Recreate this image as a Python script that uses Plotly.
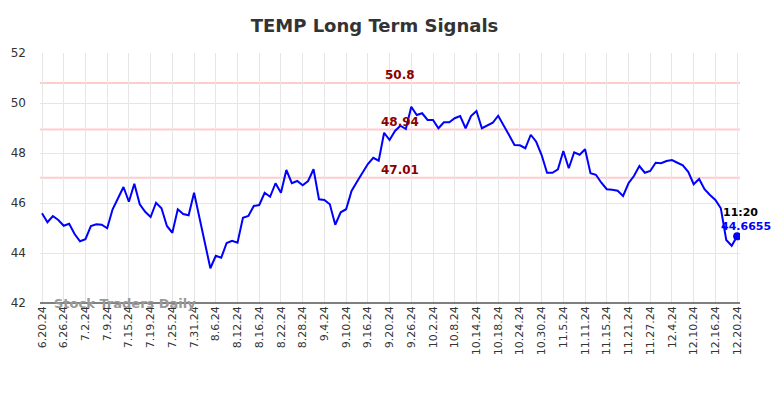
import plotly.graph_objects as go

values = [
    45.59, 45.23, 45.48, 45.32, 45.09, 45.17, 44.76, 44.47, 44.55, 45.08,
    45.15, 45.13, 44.99, 45.75, 46.19, 46.64, 46.05, 46.77, 45.95, 45.65,
    45.44, 46.01, 45.79, 45.08, 44.81, 45.75, 45.56, 45.51, 46.41, 45.40,
    44.40, 43.39, 43.89, 43.81, 44.40, 44.49, 44.41, 45.41, 45.48, 45.88,
    45.92, 46.41, 46.25, 46.79, 46.41, 47.32, 46.79, 46.88, 46.71, 46.88,
    47.35, 46.15, 46.12, 45.95, 45.13, 45.63, 45.75, 46.48, 46.85, 47.21,
    47.56, 47.81, 47.69, 48.81, 48.52, 48.88, 49.09, 48.96, 49.85, 49.52,
    49.59, 49.32, 49.32, 48.99, 49.23, 49.23, 49.39, 49.48, 48.99, 49.48,
    49.68, 48.99, 49.09, 49.21, 49.49, 49.12, 48.72, 48.32, 48.31, 48.19,
    48.73, 48.45, 47.92, 47.21, 47.21, 47.35, 48.08, 47.39, 48.03, 47.93,
    48.15, 47.19, 47.13, 46.81, 46.55, 46.53, 46.49, 46.28, 46.79, 47.08,
    47.48, 47.21, 47.28, 47.61, 47.59, 47.68, 47.72, 47.61, 47.51, 47.25,
    46.75, 46.96, 46.55, 46.32, 46.12, 45.79, 44.52, 44.29, 44.6655,
]

tick_labels = [
    "6.20.24", "6.26.24", "7.2.24", "7.9.24", "7.15.24", "7.19.24", "7.25.24",
    "7.31.24", "8.6.24", "8.12.24", "8.16.24", "8.22.24", "8.28.24", "9.4.24",
    "9.10.24", "9.16.24", "9.20.24", "9.26.24", "10.2.24", "10.8.24",
    "10.14.24", "10.18.24", "10.24.24", "10.30.24", "11.5.24", "11.11.24",
    "11.15.24", "11.21.24", "11.27.24", "12.4.24", "12.10.24", "12.16.24",
    "12.20.24",
]
tick_step = 4

levels = [50.8, 48.94, 47.01]
level_labels = ["50.8", "48.94", "47.01"]

last_time = "11:20"
last_label = "44.6655"

x = list(range(len(values)))
tickvals = [i * tick_step for i in range(len(tick_labels))]

FONT = "DejaVu Sans"

fig = go.Figure()

for lv in levels:
    fig.add_shape(type="line", xref="paper", x0=0, x1=1, y0=lv, y1=lv,
                  line=dict(color="#ffcccc", width=2), layer="below")

fig.add_trace(go.Scatter(x=x, y=values, mode="lines",
                         line=dict(color="#0000ff", width=2),
                         hoverinfo="skip", showlegend=False))
fig.add_trace(go.Scatter(x=[x[-1]], y=[values[-1]], mode="markers",
                         marker=dict(color="#0000ff", size=8),
                         hoverinfo="skip", showlegend=False))

for lv, lab in zip(levels, level_labels):
    fig.add_annotation(xref="paper", x=0.5136, y=lv, text="<b>%s</b>" % lab,
                       showarrow=False, yshift=8, xanchor="center",
                       font=dict(family=FONT, size=12, color="#8b0000"))

fig.add_annotation(x=x[-1], y=values[-1], text="<b>%s</b>" % last_time,
                   showarrow=False, xanchor="left", xshift=-16, yshift=24,
                   font=dict(family=FONT, size=11, color="#000000"))
fig.add_annotation(x=x[-1], y=values[-1], text="<b>%s</b>" % last_label,
                   showarrow=False, xanchor="left", xshift=-18, yshift=10,
                   font=dict(family=FONT, size=11, color="#0000ff"))

fig.add_annotation(xref="paper", yref="paper", x=0.02, y=0.0,
                   text="<b>Stock Traders Daily</b>", showarrow=False,
                   xanchor="left", yanchor="middle", xshift=-2,
                   font=dict(family=FONT, size=13, color="#999999"))

fig.update_layout(
    width=784, height=398,
    margin=dict(l=32, r=52, t=45, b=103),
    paper_bgcolor="white", plot_bgcolor="white",
    title=dict(text="<b>TEMP Long Term Signals</b>", x=366.5 / 784, xref="container",
               xanchor="center", y=1 - 18 / 398, yanchor="middle",
               font=dict(family=FONT, size=18, color="#333333")),
    font=dict(family=FONT, color="#333333"),
)
fig.update_xaxes(range=[-0.37, 128.53], tickvals=tickvals, ticktext=tick_labels,
                 tickangle=-90, tickfont=dict(size=11, color="#333333"),
                 showgrid=True, gridcolor="#e6e6e6", gridwidth=1,
                 zeroline=False, showline=False, ticks="", automargin=False)
fig.update_yaxes(range=[42, 52], dtick=2, tickfont=dict(size=12, color="#333333"),
                 showgrid=True, gridcolor="#e6e6e6", gridwidth=1,
                 zeroline=False, showline=False, ticks="", ticklabelstandoff=13,
                 automargin=False)
fig.add_shape(type="line", xref="paper", yref="paper", x0=0, x1=1, y0=0, y1=0,
              line=dict(color="#555555", width=1.5))

fig.write_html("out.html")
